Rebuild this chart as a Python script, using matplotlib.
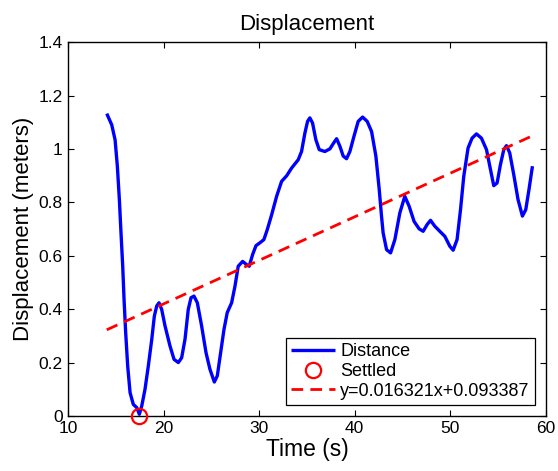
import numpy as np
import matplotlib
matplotlib.use("Agg")
import matplotlib.pyplot as plt

# distance trace
time_s = [14.05, 14.57, 14.92, 15.16, 15.37, 15.54, 15.72, 15.86, 16.03, 16.24,
          16.49, 16.83, 17.19, 17.46, 17.71, 18.05, 18.4, 18.76, 19.03, 19.28,
          19.52, 19.8, 20.15, 20.67, 21.09, 21.54, 21.89, 22.24, 22.58, 22.87,
          23.18, 23.53, 23.98, 24.44, 24.85, 25.31, 25.62, 25.97, 26.32, 26.66,
          27.12, 27.47, 27.81, 28.27, 28.69, 28.96, 29.32, 29.67, 30.16, 30.5,
          30.85, 31.31, 31.83, 32.35, 32.88, 33.4, 34.09, 34.44, 34.79, 35.07,
          35.31, 35.59, 35.94, 36.29, 36.88, 37.41, 37.82, 38.11, 38.45, 38.8,
          39.15, 39.5, 39.92, 40.37, 40.83, 41.31, 41.77, 42.22, 42.57, 42.81,
          42.98, 43.34, 43.76, 44.21, 44.73, 45.25, 45.7, 46.22, 46.75, 47.17,
          47.58, 47.94, 48.39, 48.91, 49.44, 49.96, 50.31, 50.72, 51.08, 51.42,
          51.87, 52.29, 52.75, 53.27, 53.8, 54.22, 54.56, 54.91, 55.26, 55.61,
          55.89, 56.23, 56.65, 57.1, 57.56, 57.91, 58.25, 58.61]
distance_m = [1.133, 1.091, 1.035, 0.935, 0.81, 0.686, 0.561, 0.436, 0.312, 0.187,
              0.087, 0.043, 0.031, 0.006, 0.037, 0.099, 0.187, 0.287, 0.374, 0.412,
              0.424, 0.399, 0.337, 0.262, 0.212, 0.200, 0.218, 0.287, 0.399, 0.443,
              0.449, 0.424, 0.337, 0.237, 0.175, 0.127, 0.150, 0.237, 0.324, 0.387,
              0.424, 0.486, 0.561, 0.579, 0.567, 0.561, 0.605, 0.638, 0.651, 0.661,
              0.698, 0.754, 0.823, 0.879, 0.900, 0.929, 0.960, 0.991, 1.060, 1.104,
              1.117, 1.098, 1.035, 0.998, 0.991, 1.001, 1.024, 1.039, 1.011, 0.974,
              0.964, 0.991, 1.047, 1.104, 1.120, 1.104, 1.066, 0.974, 0.849, 0.749,
              0.686, 0.623, 0.611, 0.661, 0.761, 0.823, 0.786, 0.729, 0.701, 0.692,
              0.717, 0.733, 0.711, 0.692, 0.673, 0.636, 0.621, 0.661, 0.773, 0.898,
              1.004, 1.041, 1.057, 1.041, 0.998, 0.923, 0.863, 0.873, 0.942, 0.998,
              1.013, 0.986, 0.905, 0.811, 0.749, 0.773, 0.849, 0.936]

settled_t = [17.46]
settled_d = [0.0]

slope = 0.016321
intercept = 0.093387

xticks = [10, 20, 30, 40, 50, 60]
yticks = [0, 0.2, 0.4, 0.6, 0.8, 1.0, 1.2, 1.4]
ytick_labels = ["0", "0.2", "0.4", "0.6", "0.8", "1", "1.2", "1.4"]

plt.rcParams['font.family'] = ['Liberation Sans', 'DejaVu Sans']

fig = plt.figure(figsize=(5.58, 4.71), dpi=100)
ax = fig.add_axes([0.122, 0.117, 0.856, 0.793])

ax.plot(time_s, distance_m, color='#0000ff', lw=2.4, label='Distance',
        solid_joinstyle='round', solid_capstyle='butt')
ax.plot(settled_t, settled_d, 'o', mfc='none', mec='#ff0000', mew=1.6, ms=11,
        label='Settled', clip_on=False, zorder=5)

fit_x = np.array([min(time_s), max(time_s)])
ax.plot(fit_x, slope * fit_x + intercept, color='#ff0000', lw=2.0, dashes=(4.2, 2.6),
        label='y=%.6fx+%.6f' % (slope, intercept))

ax.set_xlim(10, 60)
ax.set_ylim(0, 1.4)
ax.set_xticks(xticks)
ax.set_yticks(yticks)
ax.set_yticklabels(ytick_labels)
ax.tick_params(direction='in', length=4, width=0.8, labelsize=12.5,
               top=True, right=True, pad=4)
for s in ax.spines.values():
    s.set_linewidth(1.0)

ax.set_title('Displacement', fontsize=16, pad=9)
ax.set_xlabel('Time (s)', fontsize=16.5, labelpad=1)
ax.set_ylabel('Displacement (meters)', fontsize=16, labelpad=3)

leg = ax.legend(loc='lower right', fontsize=13, frameon=True, fancybox=False,
                edgecolor='black', framealpha=1, handlelength=2.4,
                labelspacing=0.15, borderpad=0.3, handletextpad=0.3,
                borderaxespad=0.6)
leg.get_frame().set_linewidth(0.9)

fig.savefig('out.png', dpi=100)
